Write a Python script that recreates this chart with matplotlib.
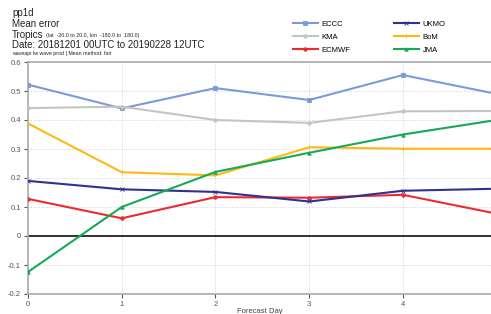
import matplotlib
matplotlib.use('Agg')
import matplotlib.pyplot as plt

days = [0, 1, 2, 3, 4, 5]
eccc = [0.522, 0.440, 0.510, 0.469, 0.555, 0.490]
kma = [0.441, 0.446, 0.400, 0.390, 0.430, 0.431]
ecmwf = [0.128, 0.061, 0.134, 0.132, 0.142, 0.077]
ukmo = [0.190, 0.161, 0.152, 0.119, 0.156, 0.163]
bom = [0.388, 0.220, 0.209, 0.306, 0.301, 0.301]
jma = [-0.124, 0.100, 0.221, 0.287, 0.350, 0.400]

yticks = [-0.2, -0.1, 0, 0.1, 0.2, 0.3, 0.4, 0.5, 0.6]
xticks = [0, 1, 2, 3, 4]

plt.rcParams['font.family'] = ['Liberation Sans', 'DejaVu Sans']

W, H = 491, 314
fig = plt.figure(figsize=(W / 100, H / 100), dpi=100)
ax = fig.add_axes([28 / W, (H - 294) / H, (W - 28) / W, (294 - 62) / H])

# order chosen so the 2-column legend reads ECCC/UKMO, KMA/BoM, ECMWF/JMA
series = [
    ('ECCC', eccc, '#7b9bd8', 's'),
    ('KMA', kma, '#c4c4c4', 'o'),
    ('ECMWF', ecmwf, '#ee2a2f', 'o'),
    ('UKMO', ukmo, '#2e3192', 'x'),
    ('BoM', bom, '#fdb913', '+'),
    ('JMA', jma, '#17a955', '^'),
]
for name, vals, col, mk in series:
    ax.plot(days, vals, color=col, lw=1.5, marker=mk, ms=2.5, mew=0.6, label=name, zorder=3)

ax.axhline(0, color='#222222', lw=1.3, zorder=2)
ax.set_axisbelow(True)
ax.set_xlim(0, 4.94)
ax.set_ylim(-0.2, 0.6)
ax.set_xticks(xticks)
ax.set_yticks(yticks)
ax.set_yticklabels(['-0.2', '-0.1', '0', '0.1', '0.2', '0.3', '0.4', '0.5', '0.6'])
ax.grid(True, color='#d0d0d0', ls=':', lw=0.7)
ax.tick_params(labelsize=5.5, colors='#555555', length=3, width=0.8, pad=2)
for s in ['left', 'bottom', 'top']:
    ax.spines[s].set_color('#aaaaaa')
    ax.spines[s].set_linewidth(1.2)
ax.spines['right'].set_visible(False)
ax.set_xlabel('Forecast Day', fontsize=5.5, color='#444444', labelpad=0)

ax.legend(loc='center left', bbox_to_anchor=(289 / W, 1 - 37 / H), bbox_transform=fig.transFigure,
          ncol=2, frameon=False, fontsize=5.5, handlelength=3.3, columnspacing=5.6,
          labelspacing=0.75, handletextpad=0.5, borderpad=0)

fig.text(12 / W, 1 - 13 / H, 'pp1d', fontsize=7, va='center', color='#222222')
fig.text(12 / W, 1 - 24 / H, 'Mean error', fontsize=7, va='center', color='#222222')
fig.text(12 / W, 1 - 35 / H, 'Tropics', fontsize=7, va='center', color='#222222')
fig.text(46 / W, 1 - 35.5 / H, '(lat  -20.0 to 20.0, lon  -180.0 to  180.0)', fontsize=3.8,
         va='center', color='#222222')
fig.text(12 / W, 1 - 45 / H, 'Date: 20181201 00UTC to 20190228 12UTC', fontsize=7,
         va='center', color='#222222')
fig.text(12 / W, 1 - 53.5 / H, 'waveapi lw wave prod | Mean method: fair', fontsize=3.8,
         va='center', color='#222222')

fig.savefig('out.png', dpi=100)
